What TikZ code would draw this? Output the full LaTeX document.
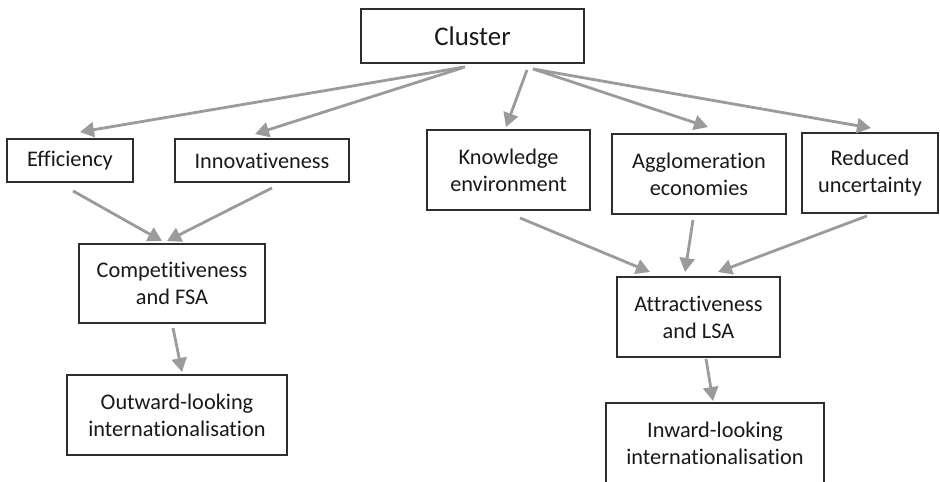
\documentclass[tikz,border=0pt]{standalone}
\usepackage{fontspec}
\setmainfont{Carlito}[Ligatures=NoCommon]
\usetikzlibrary{arrows.meta,calc}

\definecolor{arrgray}{RGB}{155,155,155}
\definecolor{boxline}{RGB}{45,45,45}
\definecolor{boxtext}{RGB}{25,25,25}

\begin{document}
\begin{tikzpicture}[x=0.02cm, y=0.02cm]

\tikzstyle box=[draw=boxline, line width=1.1pt, fill=white, text=boxtext, align=center, inner sep=0pt, font=\fontsize{12.7}{15.3}\selectfont]
\tikzstyle arr=[draw=arrgray, line width=1.6pt, -{Triangle[length=0.28cm, width=0.3cm]}]

\useasboundingbox (0,0) rectangle (940,482);

\node (cl) [box, minimum width=4.46cm, minimum height=1.08cm, font=\fontsize{15.3}{18}\selectfont] at (472.5,446) {Cluster};

\node (eff) [box, minimum width=2.52cm, minimum height=0.86cm] at (70,321.5) {Efficiency};
\node (inn) [box, minimum width=3.48cm, minimum height=0.86cm] at (262,321.5) {Innovativeness};
\node (know) [box, minimum width=3.26cm, minimum height=1.6cm] at (508.5,312) {Knowledge\\environment};
\node (agg) [box, minimum width=3.48cm, minimum height=1.6cm] at (699,308) {Agglomeration\\economies};
\node (red) [box, minimum width=2.72cm, minimum height=1.6cm] at (870,309) {Reduced\\uncertainty};

\node (comp) [box, minimum width=3.72cm, minimum height=1.58cm] at (172,198.5) {Competitiveness\\and FSA};
\node (attr) [box, minimum width=3.26cm, minimum height=1.6cm] at (698.5,165) {Attractiveness\\and LSA};

\node (out) [box, minimum width=4.4cm, minimum height=1.6cm] at (177,67) {Outward-looking\\internationalisation};
\node (inw) [box, minimum width=4.36cm, minimum height=1.6cm] at (715,39) {Inward-looking\\internationalisation};

% cluster to the five effects
\draw [arr] ($(cl.south)+(-7.5,-3)$) -- ($(eff.north)+(10,6)$);
\draw [arr] ($(cl.south)+(-10.5,-4)$) -- ($(inn.north)+(-7,4)$);
\draw [arr] ($(cl.south)+(54.5,-6)$) -- ($(know.north)+(-2.5,2)$);
\draw [arr] ($(cl.south)+(60.5,-5)$) -- ($(agg.north)+(9,6)$);
\draw [arr] ($(cl.south)+(60.5,-5)$) -- ($(red.north)+(1,4)$);

% left branch
\draw [arr] ($(eff.south)+(3,-8)$) -- ($(comp.north)+(-10,2)$);
\draw [arr] ($(inn.south)+(10,-5)$) -- ($(comp.north)+(-5,2)$);
\draw [arr] ($(comp.south)+(1,-4)$) -- ($(out.north)+(5,2)$);

% right branch
\draw [arr] ($(know.south)+(11.5,-7)$) -- ($(attr.north)+(-48.5,4)$);
\draw [arr] ($(agg.south)+(-6,-5)$) -- ($(attr.north)+(-13.5,4)$);
\draw [arr] ($(red.south)+(-3,-2)$) -- ($(attr.north)+(19.5,4)$);
\draw [arr] ($(attr.south)+(7.5,-1)$) -- ($(inw.north)+(-2,1)$);

\end{tikzpicture}
\end{document}
